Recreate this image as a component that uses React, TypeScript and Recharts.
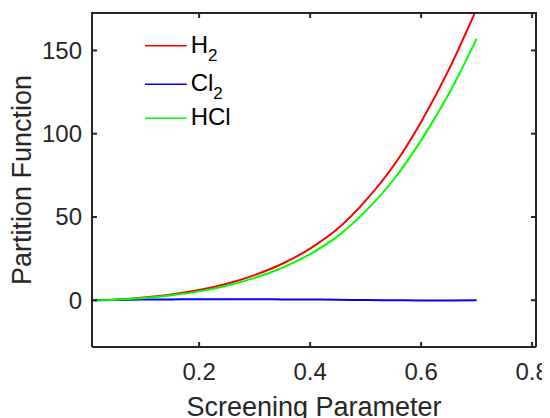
import React from 'react';
import { LineChart, Line, XAxis, YAxis, Legend } from 'recharts';

const screening = [0.01, 0.05, 0.1, 0.15, 0.2, 0.25, 0.3, 0.35, 0.4, 0.45, 0.5, 0.55, 0.6, 0.65, 0.7];
const h2Values = [0, 0.4, 1.6, 3.4, 6.1, 9.9, 15.1, 21.9, 31.0, 43.0, 59.8, 80.6, 107.1, 138.5, 175];
const cl2Values = [0, 0.2, 0.4, 0.5, 0.6, 0.6, 0.6, 0.5, 0.4, 0.3, 0.1, 0, -0.1, -0.1, 0];
const hclValues = [0, 0.35, 1.4, 3.0, 5.3, 8.7, 13.4, 19.5, 27.7, 38.5, 53.5, 72.2, 96, 124, 157];

const xTicks = [0.2, 0.4, 0.6, 0.8];
const yTicks = [0, 50, 100, 150];
const xDomain = [0.007, 0.807];
const yDomain = [-28.1, 172.5];

const seriesKeys = ['H2', 'Cl2', 'HCl'];
const seriesColors = ['#ff0000', '#0000ff', '#00ff00'];
const legendMain: Record<string, string> = { H2: 'H', Cl2: 'Cl', HCl: 'HCl' };
const legendSub: Record<string, string> = { H2: '2', Cl2: '2', HCl: '' };

const data = screening.map((x, i) => ({
  x,
  H2: h2Values[i],
  Cl2: cl2Values[i],
  HCl: hclValues[i],
}));

const FONT = '"Liberation Sans", Arial, Helvetica, sans-serif';
const INK = '#262626';

const CHART_W = 542;
const CHART_H = 410;
const MARGIN = { top: 5, right: 14, bottom: 0, left: 0 };
const Y_AXIS_W = 84;
const PLOT_TOP = MARGIN.top;
const PLOT_LEFT = MARGIN.left + Y_AXIS_W;
const PLOT_RIGHT = CHART_W - MARGIN.right;
const TICK_LEN = 5;

const YLabel = (props: any) => {
  const vb = props.viewBox || { x: 0, y: 0, width: 0, height: 0 };
  const cx = vb.x + 22.7;
  const cy = vb.y + vb.height / 2;
  return (
    <text x={cx} y={cy} transform={`rotate(-90, ${cx}, ${cy})`} textAnchor="middle" fontSize={27} fill={INK} fontFamily={FONT}>
      Partition Function
    </text>
  );
};

// x-axis title; also closes the MATLAB-style box (top and right edges of the plot area)
const XLabel = (props: any) => {
  const vb = props.viewBox || { x: 0, y: 0, width: 0, height: 0 };
  const mid = (PLOT_LEFT + PLOT_RIGHT) / 2;
  return (
    <g>
      <line x1={PLOT_LEFT - 1} x2={PLOT_RIGHT + 1} y1={PLOT_TOP} y2={PLOT_TOP} stroke={INK} strokeWidth={2} />
      <line x1={PLOT_RIGHT} x2={PLOT_RIGHT} y1={PLOT_TOP} y2={vb.y} stroke={INK} strokeWidth={2} />
      <text x={mid} y={vb.y + 69} textAnchor="middle" fontSize={27} fill={INK} fontFamily={FONT}>
        Screening Parameter
      </text>
    </g>
  );
};

const XTick = (props: any) => {
  const { x, y, payload } = props;
  return (
    <g>
      <line x1={x} x2={x} y1={PLOT_TOP} y2={PLOT_TOP + TICK_LEN} stroke={INK} strokeWidth={2} />
      <text x={x} y={y} dy="0.71em" textAnchor="middle" fontSize={24} fill={INK} fontFamily={FONT}>
        {String(payload.value)}
      </text>
    </g>
  );
};

const YTick = (props: any) => {
  const { x, y, payload } = props;
  return (
    <g>
      <line x1={PLOT_RIGHT - TICK_LEN} x2={PLOT_RIGHT} y1={y} y2={y} stroke={INK} strokeWidth={2} />
      <text x={x} y={y} dy="0.355em" textAnchor="end" fontSize={24} fill={INK} fontFamily={FONT}>
        {String(payload.value)}
      </text>
    </g>
  );
};

const renderLegend = (props: any) => {
  const payload: any[] = props.payload || [];
  const rows = [17.7, 56.3, 90.3];
  return (
    <svg width={140} height={115} style={{ display: 'block' }}>
      {seriesKeys.map((key, i) => {
        const entry = payload.find((p) => String(p.value) === key);
        const color = entry?.color ?? seriesColors[i];
        const y = rows[i];
        return (
          <g key={key}>
            <line x1={2} x2={43.7} y1={y} y2={y} stroke={color} strokeWidth={1.5} />
            <text x={47.7} y={y + 7} fontSize={24} fill="#000" fontFamily={FONT}>
              <tspan>{legendMain[key]}</tspan>
              {legendSub[key] ? (
                <tspan dy={8} fontSize={17}>
                  {legendSub[key]}
                </tspan>
              ) : null}
            </text>
          </g>
        );
      })}
    </svg>
  );
};

export default function App() {
  return (
    <LineChart width={CHART_W} height={CHART_H} data={data} margin={MARGIN} style={{ fontFamily: FONT }}>
      <XAxis
        dataKey="x"
        type="number"
        domain={xDomain}
        ticks={xTicks}
        allowDataOverflow
        height={71}
        tickSize={-TICK_LEN}
        tickMargin={21}
        tick={<XTick />}
        axisLine={{ stroke: INK, strokeWidth: 2 }}
        tickLine={{ stroke: INK, strokeWidth: 2 }}
        label={<XLabel />}
      />
      <YAxis
        type="number"
        domain={yDomain}
        ticks={yTicks}
        allowDataOverflow
        width={Y_AXIS_W}
        tickSize={-TICK_LEN}
        tickMargin={15}
        tick={<YTick />}
        axisLine={{ stroke: INK, strokeWidth: 2 }}
        tickLine={{ stroke: INK, strokeWidth: 2 }}
        label={<YLabel />}
      />
      <Legend
        layout="vertical"
        align="center"
        verticalAlign="middle"
        content={renderLegend}
        wrapperStyle={{ left: 135, top: 20, width: 140, height: 115 }}
      />
      {seriesKeys.map((k, i) => (
        <Line
          key={k}
          dataKey={k}
          name={k}
          type="monotone"
          stroke={seriesColors[i]}
          strokeWidth={2}
          dot={false}
          activeDot={false}
          isAnimationActive={false}
        />
      ))}
    </LineChart>
  );
}
